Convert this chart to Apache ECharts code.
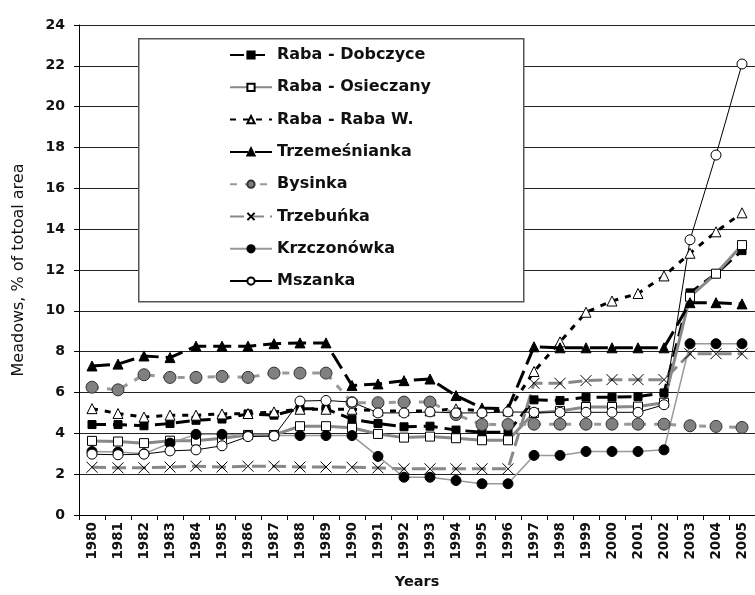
<!DOCTYPE html>
<html><head><meta charset="utf-8">
<script src="https://cdn.jsdelivr.net/npm/echarts@6/dist/echarts.min.js"></script>
<style>html,body{margin:0;padding:0;background:#fff}#c{width:755px;height:595px}</style>
</head><body><div id="c"></div>
<script>
var years = ['1980','1981','1982','1983','1984','1985','1986','1987','1988','1989','1990','1991','1992','1993','1994','1995','1996','1997','1998','1999','2000','2001','2002','2003','2004','2005'];
var yTicks = [0,2,4,6,8,10,12,14,16,18,20,22,24];
var dobczyce = [4.43,4.43,4.37,4.48,4.64,4.7,4.95,4.89,5.21,5.2,4.69,4.48,4.32,4.35,4.16,4.05,4.05,5.64,5.61,5.77,5.77,5.8,5.98,10.88,11.82,12.95];
var osieczany = [3.63,3.6,3.52,3.64,3.64,3.76,3.92,3.92,4.35,4.35,4.27,3.97,3.79,3.84,3.76,3.66,3.66,5.0,5.1,5.29,5.29,5.31,5.5,10.69,11.82,13.22];
var rabaW = [5.21,4.97,4.8,4.89,4.89,4.95,4.97,5.05,5.18,5.18,5.18,5.1,5.1,5.1,5.2,5.1,5.1,7.03,8.48,9.93,10.48,10.85,11.71,12.82,13.87,14.8];
var trzemesnianka = [7.3,7.39,7.79,7.71,8.27,8.27,8.27,8.39,8.43,8.43,6.34,6.42,6.58,6.66,5.85,5.24,5.2,8.24,8.19,8.19,8.19,8.19,8.19,10.4,10.4,10.34];
var bysinka = [6.26,6.13,6.87,6.74,6.74,6.79,6.74,6.95,6.95,6.95,5.5,5.5,5.53,5.53,4.92,4.43,4.43,4.45,4.45,4.45,4.45,4.45,4.45,4.37,4.34,4.29];
var trzebunka = [2.34,2.31,2.31,2.35,2.39,2.35,2.39,2.39,2.35,2.35,2.34,2.31,2.26,2.26,2.26,2.26,2.26,6.45,6.45,6.58,6.63,6.63,6.63,7.9,7.9,7.9];
var krzczonowka = [3.11,3.08,3.0,3.52,3.95,3.95,3.9,3.9,3.89,3.89,3.89,2.87,1.85,1.85,1.69,1.53,1.53,2.92,2.92,3.11,3.11,3.11,3.19,8.39,8.39,8.39];
var mszanka = [2.98,2.95,2.98,3.14,3.19,3.39,3.84,3.87,5.58,5.61,5.53,5.0,5.0,5.05,5.0,5.0,5.05,5.03,5.03,5.03,5.03,5.03,5.4,13.48,17.63,22.09];

var FONT = '"DejaVu Sans", Verdana, sans-serif';
var chart = echarts.init(document.getElementById('c'), null, {renderer:'canvas'});
var X_PATH = 'path://M0,0L10,10M10,0L0,10';

function mk(name, data, line, sym, symSize, item, z){
  return {name:name, type:'line', data:data, symbol:sym, symbolSize:symSize,
    showAllSymbol:true, lineStyle:line, itemStyle:item, z:z, animation:false,
    emphasis:{disabled:true}};
}

chart.setOption({
  backgroundColor:'#fff',
  animation:false,
  grid:{left:79, top:25, width:684, height:496, containLabel:false},
  graphic:[{type:'rect', left:138, top:38, shape:{width:385, height:263},
    style:{fill:'#fff', stroke:'#555', lineWidth:1.5}, z:100}],
  legend:{orient:'vertical', left:224, top:42, itemWidth:42, itemHeight:9, itemGap:16.3,
    z:101, selectedMode:false,
    textStyle:{fontFamily:FONT, fontSize:16, fontWeight:'bold', color:'#111'},
    data:['Raba - Dobczyce','Raba - Osieczany','Raba - Raba W.','Trzemeśnianka','Bysinka','Trzebuńka','Krzczonówka','Mszanka']},
  xAxis:{type:'category', data:years, boundaryGap:true,
    name:'Years', nameLocation:'middle', nameGap:60,
    nameTextStyle:{fontFamily:FONT, fontSize:14.5, fontWeight:'bold', color:'#111'},
    axisLine:{lineStyle:{color:'#000', width:1}},
    axisTick:{show:true, length:5, lineStyle:{color:'#000'}},
    axisLabel:{rotate:90, interval:0, margin:7, fontFamily:FONT, fontSize:13.5, fontWeight:'bold', color:'#111'},
    splitLine:{show:false}},
  yAxis:{type:'value', min:0, max:24, interval:2,
    name:'Meadows, % of totoal area', nameLocation:'middle', nameGap:52,
    nameTextStyle:{fontFamily:FONT, fontSize:16, color:'#111'},
    axisLine:{show:true, lineStyle:{color:'#000', width:1}},
    axisTick:{show:true, length:5, lineStyle:{color:'#000'}},
    axisLabel:{margin:14, fontFamily:FONT, fontSize:14, fontWeight:'bold', color:'#111',
      formatter:function(v){return yTicks.indexOf(v)>=0? String(v):'';}},
    splitLine:{show:true, lineStyle:{color:'#222', width:1}}},
  series:[
    mk('Raba - Dobczyce', dobczyce, {color:'#000', width:3, type:[14,7]}, 'rect', 8, {color:'#000', borderColor:'#000', borderWidth:1}, 2),
    mk('Raba - Osieczany', osieczany, {color:'#888', width:3, type:'solid'}, 'rect', 9, {color:'#fff', borderColor:'#000', borderWidth:1}, 2),
    mk('Raba - Raba W.', rabaW, {color:'#000', width:3, type:[6,7]}, 'triangle', 10, {color:'#fff', borderColor:'#000', borderWidth:1}, 2),
    mk('Trzemeśnianka', trzemesnianka, {color:'#000', width:3, type:[18,7]}, 'triangle', 10, {color:'#000', borderColor:'#000', borderWidth:1}, 2),
    mk('Bysinka', bysinka, {color:'#999', width:3, type:[7,8]}, 'circle', 12, {color:'#808080', borderColor:'#333', borderWidth:1}, 2),
    mk('Trzebuńka', trzebunka, {color:'#888', width:3, type:[14,6]}, X_PATH, 11, {color:'none', borderColor:'#000', borderWidth:1}, 2),
    mk('Krzczonówka', krzczonowka, {color:'#999', width:1.5, type:'solid'}, 'circle', 10, {color:'#000', borderColor:'#000', borderWidth:1}, 2),
    mk('Mszanka', mszanka, {color:'#000', width:1, type:'solid'}, 'circle', 10, {color:'#fff', borderColor:'#000', borderWidth:1}, 2)
  ]
});
</script></body></html>
